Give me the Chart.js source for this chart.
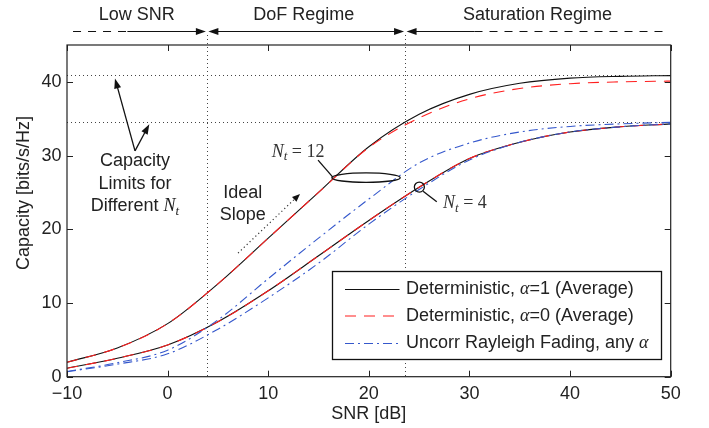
<!DOCTYPE html>
<html>
<head>
<meta charset="utf-8">
<script src="https://cdn.jsdelivr.net/npm/chart.js@4.4.1/dist/chart.umd.min.js"></script>
<style>
  html, body { margin: 0; padding: 0; background: #fff; }
  #wrap { width: 709px; height: 428px; }
</style>
</head>
<body>
<div id="wrap"><canvas id="cap" width="709" height="428"></canvas></div>
<script>
// --- values ---
const snr = [-10, -5, 0, 5, 10, 15, 20, 25, 30, 35, 40, 45, 50];
const det12Alpha1 = [1.95, 3.9, 7.2, 12.6, 18.8, 25.0, 31.2, 35.6, 38.3, 39.8, 40.5, 40.75, 40.85];
const det12Alpha0 = [1.95, 3.9, 7.2, 12.6, 18.8, 25.0, 31.1, 35.1, 37.7, 39.1, 39.75, 40.0, 40.1];
const ray12 = [0.7, 1.9, 3.6, 7.7, 13.3, 18.8, 24.1, 29.0, 31.7, 33.2, 33.95, 34.3, 34.5];
const det4Alpha1 = [1.14, 2.5, 4.3, 7.45, 11.65, 16.4, 21.2, 25.7, 29.6, 31.8, 33.2, 33.9, 34.3];
const det4Alpha0 = [1.14, 2.5, 4.3, 7.45, 11.65, 16.4, 21.2, 25.7, 29.6, 31.8, 33.2, 33.9, 34.3];
const ray4 = [0.68, 1.7, 3.1, 6.45, 10.7, 15.4, 20.7, 25.4, 29.4, 31.8, 33.2, 33.9, 34.3];

const xTicks = [-10, 0, 10, 20, 30, 40, 50];
const yTicks = [0, 10, 20, 30, 40];
const limitLevels = [40.9, 34.6];     // dotted capacity limits
const regimeEdges = [3.9, 23.6];      // dotted regime borders [dB]
const regimeLabels = ['Low SNR', 'DoF Regime', 'Saturation Regime'];
const regimeLabelX = [-3.07, 13.54, 36.77];

const SANS = '"Liberation Sans", Arial, sans-serif';
const SERIF = '"Liberation Serif", "Times New Roman", serif';
const TXT = '#222';

const styles = {
    det1: { color: '#111111', dash: [] },
    det0: { color: '#ff1f1f', dash: [11, 8] },
    ray:  { color: '#3558cc', dash: [9, 4, 2, 4] }
};

function series(vals, st) {
    return {
        data: snr.map((s, i) => ({ x: s, y: vals[i] })),
        borderColor: st.color,
        borderDash: st.dash,
        borderWidth: 1.1,
        pointRadius: 0,
        fill: false,
        cubicInterpolationMode: 'monotone'
    };
}

// first dataset ends up on top
const datasets = [
    series(ray12, styles.ray),
    series(ray4, styles.ray),
    series(det12Alpha0, styles.det0),
    series(det4Alpha0, styles.det0),
    series(det12Alpha1, styles.det1),
    series(det4Alpha1, styles.det1)
];

// --- helpers for the hand drawn bits ---
function seg(ctx, x1, y1, x2, y2) {
    ctx.beginPath(); ctx.moveTo(x1, y1); ctx.lineTo(x2, y2); ctx.stroke();
}
function head(ctx, tx, ty, fx, fy, len, half) {
    const ang = Math.atan2(ty - fy, tx - fx);
    ctx.beginPath();
    ctx.moveTo(tx, ty);
    ctx.lineTo(tx - len * Math.cos(ang) + half * Math.sin(ang), ty - len * Math.sin(ang) - half * Math.cos(ang));
    ctx.lineTo(tx - len * Math.cos(ang) - half * Math.sin(ang), ty - len * Math.sin(ang) + half * Math.cos(ang));
    ctx.closePath();
    ctx.fill();
}
function partsWidth(ctx, parts) {
    let w = 0;
    parts.forEach(p => { ctx.font = p.font; w += ctx.measureText(p.text).width; });
    return w;
}
function drawParts(ctx, x, y, parts) {
    ctx.textAlign = 'left';
    parts.forEach(p => {
        ctx.font = p.font;
        ctx.fillText(p.text, x, y + (p.dy || 0));
        x += ctx.measureText(p.text).width;
    });
}
const sans = t => ({ text: t, font: '18px ' + SANS });
const ital = t => ({ text: t, font: 'italic 18px ' + SERIF });
const rom = t => ({ text: t, font: '18px ' + SERIF });
const sub = t => ({ text: t, font: 'italic 13px ' + SERIF, dy: 5 });

const legendRows = [
    { st: styles.det1, parts: [sans('Deterministic, '), ital('\u03b1'), sans('=1 (Average)')] },
    { st: styles.det0, parts: [sans('Deterministic, '), ital('\u03b1'), sans('=0 (Average)')] },
    { st: styles.ray,  parts: [sans('Uncorr Rayleigh Fading, any '), ital('\u03b1')] }
];

const decor = {
    id: 'decor',
    beforeDatasetsDraw(chart) {
        const { ctx, chartArea: a, scales: { x, y } } = chart;
        ctx.save();
        ctx.strokeStyle = '#444';
        ctx.lineWidth = 1;
        ctx.setLineDash([1, 3]);
        limitLevels.forEach(v => {
            const py = Math.round(y.getPixelForValue(v)) + 0.5;
            seg(ctx, a.left, py, a.right, py);
        });
        regimeEdges.forEach(v => {
            const px = Math.round(x.getPixelForValue(v)) + 0.5;
            seg(ctx, px, a.top - 10, px, a.bottom);
        });
        ctx.restore();
    },
    afterDraw(chart) {
        const { ctx, chartArea: a, scales: { x, y } } = chart;
        const X = v => x.getPixelForValue(v);
        const Y = v => y.getPixelForValue(v);
        ctx.save();

        // axes box + inward ticks
        ctx.strokeStyle = TXT;
        ctx.lineWidth = 1.2;
        ctx.setLineDash([]);
        ctx.strokeRect(a.left, a.top, a.right - a.left, a.bottom - a.top);
        ctx.lineWidth = 1;
        xTicks.forEach(v => {
            const px = Math.round(X(v)) + 0.5;
            seg(ctx, px, a.bottom, px, a.bottom - 6);
            seg(ctx, px, a.top, px, a.top + 6);
        });
        yTicks.forEach(v => {
            const py = Math.round(Y(v)) + 0.5;
            seg(ctx, a.left, py, a.left + 6, py);
            seg(ctx, a.right, py, a.right - 6, py);
        });

        // axis titles
        ctx.fillStyle = TXT;
        ctx.font = '18px ' + SANS;
        ctx.textAlign = 'center';
        ctx.textBaseline = 'middle';
        ctx.fillText('SNR [dB]', (a.left + a.right) / 2, 414);
        ctx.save();
        ctx.translate(24, 193);
        ctx.rotate(-Math.PI / 2);
        ctx.fillText('Capacity [bits/s/Hz]', 0, 0);
        ctx.restore();

        // regime labels and arrows above the axes
        const ay = a.top - 13.5;
        regimeLabels.forEach((t, i) => ctx.fillText(t, X(regimeLabelX[i]), 15));
        ctx.strokeStyle = '#111';
        ctx.fillStyle = '#111';
        ctx.lineWidth = 1.2;
        const e1 = X(regimeEdges[0]), e2 = X(regimeEdges[1]);
        ctx.setLineDash([8, 7]);
        seg(ctx, X(-9.4), ay, X(-4.0), ay);
        seg(ctx, X(30.5), ay, X(49.7), ay);
        ctx.setLineDash([]);
        seg(ctx, X(-4.0), ay, e1 - 6, ay);
        seg(ctx, e1 + 7, ay, e2 - 6, ay);
        seg(ctx, e2 + 7, ay, X(30.5), ay);
        head(ctx, e1 - 1, ay, e1 - 20, ay, 10, 3.5);
        head(ctx, e1 + 1.5, ay, e1 + 20, ay, 10, 3.5);
        head(ctx, e2 - 1, ay, e2 - 20, ay, 10, 3.5);
        head(ctx, e2 + 1.5, ay, e2 + 20, ay, 10, 3.5);

        // capacity limits annotation
        ctx.fillStyle = TXT;
        ctx.font = '18px ' + SANS;
        ctx.textAlign = 'center';
        ctx.fillText('Capacity', X(-3.24), Y(29.2));
        ctx.fillText('Limits for', X(-3.24), Y(26.1));
        const diff = [sans('Different '), ital('N'), sub('t')];
        drawParts(ctx, X(-3.24) - partsWidth(ctx, diff) / 2, Y(23.1), diff);
        ctx.strokeStyle = '#111';
        ctx.fillStyle = '#111';
        ctx.lineWidth = 1.3;
        const sx = X(-3.24), sy = Y(30.64);
        [[-5.23, 40.46], [-1.82, 34.26]].forEach(([tx, ty]) => {
            const px = X(tx), py = Y(ty);
            const k = 8 / Math.hypot(px - sx, py - sy);
            seg(ctx, sx, sy, px - (px - sx) * k, py - (py - sy) * k);
            head(ctx, px, py, sx, sy, 10, 3.5);
        });

        // ideal slope
        ctx.fillStyle = TXT;
        ctx.font = '18px ' + SANS;
        ctx.textAlign = 'center';
        ctx.fillText('Ideal', X(7.47), Y(24.9));
        ctx.fillText('Slope', X(7.47), Y(21.9));
        ctx.strokeStyle = '#333';
        ctx.fillStyle = '#111';
        ctx.lineWidth = 1.2;
        ctx.setLineDash([1.2, 2.8]);
        const ix1 = X(7.0), iy1 = Y(16.77), ix2 = X(13.16), iy2 = Y(24.8);
        seg(ctx, ix1, iy1, ix2 - (ix2 - ix1) * 0.1, iy2 - (iy2 - iy1) * 0.1);
        ctx.setLineDash([]);
        head(ctx, ix2, iy2, ix1, iy1, 8, 3.2);

        // Nt = 12 ellipse and label
        ctx.strokeStyle = '#111';
        ctx.lineWidth = 1.3;
        ctx.beginPath();
        ctx.ellipse(X(19.72), Y(27.0), X(19.72) - X(16.32), Y(26.36) - Y(27.0), 0, 0, 2 * Math.PI);
        ctx.stroke();
        seg(ctx, X(14.95), Y(29.38), X(16.44), Y(27.04));
        ctx.fillStyle = '#333';
        drawParts(ctx, X(10.35), Y(30.5), [ital('N'), sub('t'), rom(' = 12')]);

        // Nt = 4 circle and label
        ctx.beginPath();
        ctx.arc(X(25.02), Y(25.72), 5, 0, 2 * Math.PI);
        ctx.stroke();
        seg(ctx, X(25.39), Y(25.17), X(26.75), Y(23.73));
        drawParts(ctx, X(27.38), Y(23.55), [ital('N'), sub('t'), rom(' = 4')]);

        // legend
        ctx.fillStyle = '#fff';
        ctx.fillRect(332.5, 271.5, 329, 88);
        ctx.strokeStyle = '#111';
        ctx.lineWidth = 1.3;
        ctx.strokeRect(332.5, 271.5, 329, 88);
        const rowsY = [289.5, 316, 343.5];
        legendRows.forEach((r, i) => {
            ctx.strokeStyle = r.st.color;
            ctx.lineWidth = 1.1;
            ctx.setLineDash(r.st.dash);
            seg(ctx, 345, rowsY[i], 399.5, rowsY[i]);
            ctx.setLineDash([]);
            ctx.fillStyle = TXT;
            drawParts(ctx, 406, rowsY[i], r.parts);
        });

        ctx.restore();
    }
};

new Chart(document.getElementById('cap'), {
    type: 'line',
    data: { datasets: datasets },
    options: {
        responsive: false,
        animation: false,
        layout: { padding: { top: 45, right: 38.3, left: 0, bottom: 0 } },
        plugins: { legend: { display: false }, tooltip: { enabled: false } },
        scales: {
            x: {
                type: 'linear',
                min: -10,
                max: 50,
                grid: { display: false, drawTicks: false },
                border: { display: false },
                afterFit: s => { s.height = 51.3; },
                afterBuildTicks: s => { s.ticks = xTicks.map(v => ({ value: v })); },
                ticks: {
                    padding: 7,
                    color: TXT,
                    font: { family: SANS, size: 18 },
                    callback: v => v < 0 ? '\u2212' + Math.abs(v) : String(v)
                }
            },
            y: {
                type: 'linear',
                min: 0,
                max: 45,
                grid: { display: false, drawTicks: false },
                border: { display: false },
                afterFit: s => { s.width = 67; },
                afterBuildTicks: s => { s.ticks = yTicks.map(v => ({ value: v })); },
                ticks: {
                    padding: 5.5,
                    color: TXT,
                    font: { family: SANS, size: 18 }
                }
            }
        }
    },
    plugins: [decor]
});
</script>
</body>
</html>
